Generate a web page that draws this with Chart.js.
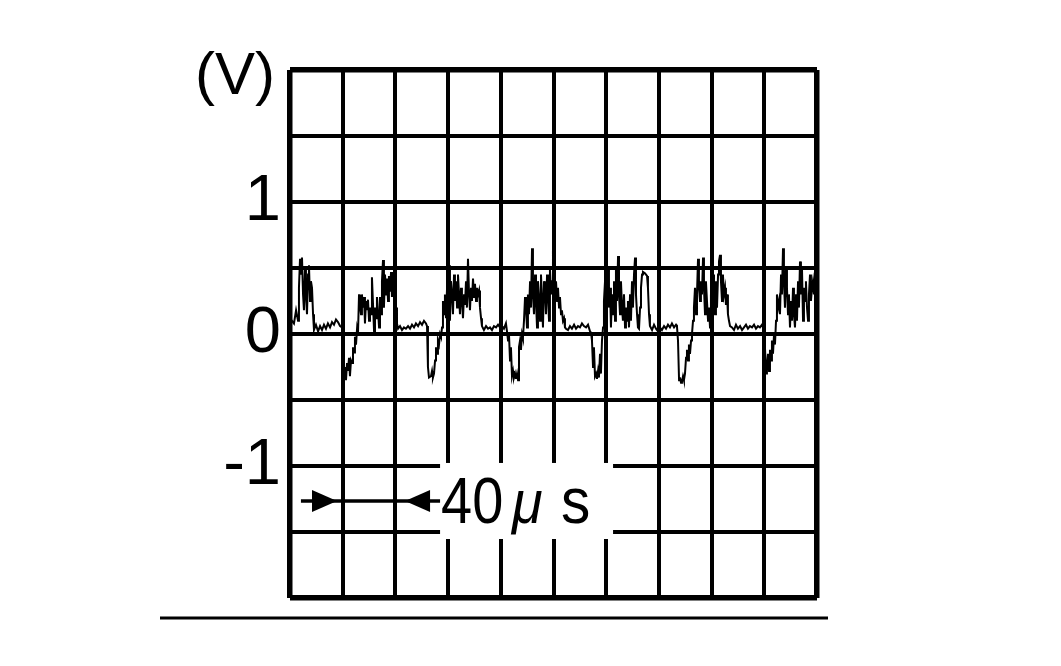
<!DOCTYPE html>
<html>
<head>
<meta charset="utf-8">
<script src="https://cdn.jsdelivr.net/npm/chart.js@4.4.1/dist/chart.umd.min.js"></script>
<style>
  html, body { margin: 0; padding: 0; background: #fff; }
  #scope { display: block; }
</style>
</head>
<body>
<canvas id="scope" width="1061" height="666"></canvas>
<script>
// trace: time in microseconds (40 us / div), voltage in volts
var timeUs = [
  0, 1.5, 3.0, 4.6, 6.1, 6.8, 7.6, 8.3, 9.1, 9.9, 10.6, 11.4, 12.1, 12.9, 13.7, 14.4, 15.2, 15.9, 16.7, 17.5,
  18.2, 19.7, 21.3, 22.8, 24.3, 25.8, 27.3, 28.8, 30.4, 31.9, 33.4, 34.9, 36.4, 38.0, 39.5,
  40.2, 41.0, 41.7, 42.5, 43.3, 44.0, 44.8, 45.5, 46.3, 47.1, 47.8, 48.6, 49.3, 50.1, 50.9,
  51.6, 52.4, 53.1, 53.9, 54.6, 55.4, 56.2, 56.9, 57.7, 58.4, 59.2, 60.0, 60.7, 61.5, 62.2, 63.8, 64.5, 65.3, 66.0, 66.8,
  67.6, 68.3, 69.1, 69.8, 70.6, 71.3, 72.1, 72.9, 73.6, 74.4, 75.1, 75.9, 76.7, 77.4, 78.2, 78.9, 79.7, 80.5, 81.2,
  82.0, 83.5, 85.0, 86.5, 88.0, 89.6, 91.1, 92.6, 94.1, 95.6, 97.2, 98.7, 100.2, 101.7, 103.2, 104.0,
  104.7, 105.5, 107.0, 107.8, 108.5, 109.3, 110.1, 110.8, 111.6, 112.3, 113.1, 113.9, 114.6, 115.4,
  116.1, 116.9, 117.6, 118.4, 119.2, 119.9, 120.7, 121.4, 122.2, 123.0, 123.7, 124.5, 125.2, 126.0, 126.8, 127.5,
  128.3, 129.0, 129.8, 130.5, 131.3, 132.1, 132.8, 133.6, 134.3, 135.1, 135.9, 136.6, 137.4, 138.1, 138.9, 139.7,
  140.4, 141.2, 141.9, 142.7, 143.5, 144.2, 145.0, 145.7,
  147.2, 148.8, 150.3, 151.8, 153.3, 154.8, 156.4, 157.9, 159.4, 160.9, 162.4, 163.9,
  164.7, 165.5, 166.2, 167.0, 167.7, 168.5, 169.3, 170.0, 170.8, 171.5, 172.3, 173.1, 173.8, 174.6, 175.3, 176.1, 176.8,
  177.6, 178.4, 179.1, 179.9, 180.6, 181.4, 182.2, 182.9, 183.7, 184.4, 185.2, 186.0, 186.7, 187.5, 188.2, 189.0,
  189.8, 190.5, 191.3, 192.0, 192.8, 193.5, 194.3, 195.1, 195.8, 196.6, 197.3, 198.1, 198.9, 199.6, 200.4, 201.1,
  201.9, 202.7, 203.4, 204.2, 204.9, 205.7, 206.4, 207.2, 208.0, 208.7, 209.5,
  211.0, 212.5, 214.0, 215.6, 217.1, 218.6, 220.1, 221.6, 223.1, 224.7, 226.2, 227.7, 228.5,
  229.2, 230.0, 230.7, 231.5, 232.3, 233.0, 233.8, 234.5, 235.3, 236.0, 236.8,
  237.6, 238.3, 239.1, 239.8, 240.6, 241.4, 242.1, 242.9, 243.6, 244.4, 245.2, 245.9, 246.7, 247.4, 248.2, 249.0,
  249.7, 250.5, 251.2, 252.0, 252.7, 253.5, 254.3, 255.0, 255.8, 256.5, 257.3, 258.1, 258.8, 259.6, 260.3, 261.1,
  261.9, 262.6, 263.4, 264.1, 264.9, 265.7, 266.4, 267.2, 267.9, 269.4, 271.0, 271.7, 272.5, 273.2,
  274.8, 276.3, 277.8, 279.3, 280.8, 282.3, 283.9, 285.4, 286.9, 288.4, 289.9, 291.5, 293.0, 293.7,
  294.5, 295.3, 296.0, 296.8, 297.5, 298.3, 299.0, 299.8, 300.6, 301.3, 302.1, 302.8, 303.6, 304.4, 305.1,
  305.9, 306.6, 307.4, 308.2, 308.9, 309.7, 310.4, 311.2, 311.9, 312.7, 313.5, 314.2, 315.0, 315.7, 316.5, 317.3,
  318.0, 318.8, 319.5, 320.3, 321.1, 321.8, 322.6, 323.3, 324.1, 324.9, 325.6, 326.4, 327.1, 327.9, 328.6, 329.4,
  330.2, 330.9, 331.7, 332.4, 333.2, 334.0, 335.5,
  337.0, 338.5, 340.0, 341.6, 343.1, 344.6, 346.1, 347.6, 349.1, 350.7, 352.2, 353.7, 355.2, 356.7, 358.2, 359.8,
  360.5, 361.3, 362.0, 362.8, 363.6, 364.3, 365.1, 365.8, 366.6, 367.4, 368.1,
  368.9, 369.6, 370.4, 371.2, 371.9, 372.7, 373.4, 374.2, 374.9, 375.7, 376.5, 377.2, 378.0, 378.7, 379.5, 380.3,
  381.0, 381.8, 382.5, 383.3, 384.1, 384.8, 385.6, 386.3, 387.1, 387.8, 388.6, 389.4, 390.1, 390.9, 391.6, 392.4,
  393.2, 393.9, 394.7, 395.4, 396.2, 396.9, 397.7, 398.5, 399.2, 400.0
];
var volts = [
  0.08, 0.10, 0.08, 0.18, 0.10, 0.35, 0.57, 0.45, 0.58, 0.30, 0.18, 0.50, 0.30, 0.15, 0.45, 0.52, 0.25, 0.40, 0.35, 0.15,
  0.03, 0.07, 0.02, 0.06, 0.03, 0.07, 0.04, 0.08, 0.05, 0.09, 0.07, 0.11, 0.09, 0.06, 0.05,
  -0.22, -0.30, -0.25, -0.35, -0.22, -0.28, -0.18, -0.32, -0.20, -0.22, -0.10, -0.14, -0.02, -0.08, 0.04,
  0.00, 0.30, 0.22, 0.15, 0.30, 0.20, 0.28, 0.08, 0.25, 0.18, 0.26, 0.10, 0.20, 0.15, 0.43, 0.02, 0.20, 0.12, 0.28, 0.18,
  0.05, 0.28, 0.15, 0.40, 0.56, 0.20, 0.45, 0.30, 0.42, 0.25, 0.44, 0.32, 0.47, 0.28, 0.40, 0.36, 0.55, 0.20, 0.08,
  0.04, 0.06, 0.03, 0.05, 0.04, 0.06, 0.04, 0.07, 0.05, 0.08, 0.06, 0.09, 0.07, 0.10, 0.08, 0.06,
  -0.25, -0.33, -0.32, -0.28, -0.33, -0.30, -0.20, -0.10, -0.15, -0.05, -0.08, 0.00, -0.02, 0.05,
  0.25, 0.15, 0.30, 0.12, 0.35, 0.20, 0.52, 0.10, 0.40, 0.30, 0.15, 0.45, 0.25, 0.40, 0.20, 0.45,
  0.30, 0.15, 0.35, 0.25, 0.12, 0.30, 0.22, 0.40, 0.20, 0.57, 0.30, 0.18, 0.35, 0.25, 0.42, 0.28,
  0.38, 0.25, 0.35, 0.30, 0.33, 0.20, 0.12, 0.06,
  0.03, 0.06, 0.04, 0.05, 0.03, 0.06, 0.05, 0.07, 0.05, 0.06, 0.04, 0.08,
  0.02, -0.05, 0.00, -0.20, -0.10, -0.32, -0.28, -0.33, -0.30, -0.34, -0.30, -0.35, -0.10, -0.05, -0.12, 0.00, -0.03,
  0.10, 0.28, 0.20, 0.05, 0.30, 0.15, 0.40, 0.20, 0.65, 0.30, 0.15, 0.45, 0.25, 0.05, 0.40, 0.30,
  0.10, 0.45, 0.25, 0.05, 0.40, 0.35, 0.15, 0.45, 0.30, 0.10, 0.50, 0.30, 0.40, 0.63, 0.45, 0.30,
  0.40, 0.25, 0.35, 0.20, 0.28, 0.15, 0.18, 0.10, 0.12, 0.05, 0.04,
  0.03, 0.06, 0.04, 0.07, 0.04, 0.06, 0.05, 0.08, 0.06, 0.05, 0.07, 0.02, 0.01,
  -0.05, -0.25, -0.10, -0.32, -0.30, -0.34, -0.28, -0.33, -0.15, -0.30, -0.05,
  0.05, 0.25, 0.40, 0.10, 0.30, 0.50, 0.20, 0.35, 0.05, 0.30, 0.15, 0.40, 0.10, 0.50, 0.25, 0.59,
  0.30, 0.15, 0.40, 0.20, 0.10, 0.30, 0.05, 0.20, 0.10, 0.25, 0.05, 0.30, 0.10, 0.40, 0.20, 0.45,
  0.58, 0.30, 0.15, 0.05, 0.04, 0.20, 0.35, 0.45, 0.47, 0.46, 0.44, 0.35, 0.15, 0.06,
  0.03, 0.07, 0.04, 0.02, 0.05, 0.03, 0.06, 0.04, 0.07, 0.05, 0.08, 0.05, 0.07, 0.06,
  -0.05, -0.35, -0.33, -0.37, -0.36, -0.32, -0.35, -0.30, -0.18, -0.12, -0.20, -0.08, -0.15, -0.05, 0.00,
  0.10, 0.20, 0.35, 0.15, 0.30, 0.57, 0.35, 0.25, 0.40, 0.30, 0.58, 0.35, 0.15, 0.40, 0.25, 0.10,
  0.20, 0.05, 0.30, 0.10, 0.45, 0.25, 0.15, 0.40, 0.20, 0.45, 0.55, 0.60, 0.40, 0.25, 0.45, 0.30,
  0.35, 0.22, 0.30, 0.15, 0.10, 0.06, 0.05,
  0.03, 0.07, 0.04, 0.06, 0.03, 0.05, 0.07, 0.04, 0.06, 0.05, 0.07, 0.04, 0.06, 0.05, 0.07, 0.03,
  -0.10, -0.30, -0.25, -0.15, -0.28, -0.12, -0.20, -0.05, -0.15, 0.00, -0.08,
  0.10, 0.30, 0.20, 0.25, 0.15, 0.45, 0.30, 0.65, 0.40, 0.20, 0.50, 0.35, 0.15, 0.30, 0.05, 0.25,
  0.10, 0.35, 0.15, 0.05, 0.30, 0.10, 0.40, 0.20, 0.55, 0.30, 0.50, 0.10, 0.35, 0.25, 0.40, 0.20,
  0.10, 0.30, 0.45, 0.25, 0.35, 0.40, 0.30, 0.45, 0.35, 0.38
];
var yLabels = { '1': '1', '0': '0', '-1': '-1' };
var unitLabel = '(V)';
var timeNote = ['40', 'μ', 's'];

var FONT = "'Liberation Sans', Arial, sans-serif";

// draws narrow-ish text like the scope photo
function squeezed(c, txt, x, y, sx) {
  c.save();
  c.translate(x, y);
  c.scale(sx, 1);
  c.fillText(txt, 0, 0);
  c.restore();
}

// (V) at the top, 40 us note with its arrows, rule under the screen
var extras = {
  id: 'extras',
  afterDraw: function (chart) {
    var c = chart.ctx, a = chart.chartArea;
    var xs = chart.scales.x, ys = chart.scales.y;
    c.save();
    c.fillStyle = '#000';
    c.font = '60px ' + FONT;
    c.textAlign = 'right';
    c.textBaseline = 'alphabetic';
    c.fillText(unitLabel, a.left - 15, a.top + 24);

    // white patch behind the note
    var bx0 = xs.getPixelForValue(113.9), bx1 = xs.getPixelForValue(245.2);
    var by0 = ys.getPixelForValue(-0.977), by1 = ys.getPixelForValue(-1.553);
    c.fillStyle = '#fff';
    c.fillRect(bx0, by0, bx1 - bx0, by1 - by0);

    // arrows
    var ay = ys.getPixelForValue(-1.265);
    c.strokeStyle = '#000';
    c.fillStyle = '#000';
    c.lineWidth = 3.5;
    c.beginPath();
    c.moveTo(xs.getPixelForValue(8.3), ay);
    c.lineTo(bx0, ay);
    c.stroke();
    var t1 = xs.getPixelForValue(35.7), b1 = xs.getPixelForValue(16.7);
    var t2 = xs.getPixelForValue(87.3), b2 = xs.getPixelForValue(106.3);
    c.beginPath();
    c.moveTo(t1, ay); c.lineTo(b1, ay - 11); c.lineTo(b1, ay + 11); c.closePath();
    c.fill();
    c.beginPath();
    c.moveTo(t2, ay); c.lineTo(b2, ay - 11); c.lineTo(b2, ay + 11); c.closePath();
    c.fill();

    // 40 μs
    var base = ys.getPixelForValue(-1.43);
    c.textAlign = 'left';
    c.font = '65px ' + FONT;
    squeezed(c, timeNote[0], bx0 + 1, base, 0.86);
    c.font = 'italic 62px ' + FONT;
    squeezed(c, timeNote[1], bx0 + 72, base, 0.9);
    c.font = '65px ' + FONT;
    squeezed(c, timeNote[2], bx0 + 121, base, 0.9);

    // rule under the screen
    c.lineWidth = 3;
    c.beginPath();
    c.moveTo(a.left - 130, a.bottom + 20);
    c.lineTo(a.right + 11, a.bottom + 20);
    c.stroke();
    c.restore();
  }
};

document.addEventListener('DOMContentLoaded', function () {
  var ctx = document.getElementById('scope').getContext('2d');
  var points = timeUs.map(function (t, i) { return { x: t, y: volts[i] }; });

  new Chart(ctx, {
    type: 'line',
    data: {
      datasets: [{
        data: points,
        borderColor: '#000',
        borderWidth: 2,
        pointRadius: 0,
        tension: 0,
        fill: false
      }]
    },
    options: {
      responsive: false,
      animation: false,
      events: [],
      layout: { padding: { left: 0, top: 70, right: 244, bottom: 68 } },
      plugins: { legend: { display: false }, tooltip: { enabled: false } },
      scales: {
        x: {
          type: 'linear',
          min: 0,
          max: 400,
          afterFit: function (s) { s.height = 0; },
          ticks: { stepSize: 40, display: false },
          border: { display: false },
          grid: {
            color: '#000',
            drawTicks: false,
            lineWidth: function (c) { return (c.index === 0 || c.index === 10) ? 5.5 : 4; }
          }
        },
        y: {
          min: -2,
          max: 2,
          afterFit: function (s) { s.width = 290; },
          border: { display: false },
          grid: {
            color: '#000',
            drawTicks: false,
            lineWidth: function (c) { return (c.index === 0 || c.index === 8) ? 5.5 : 4; }
          },
          ticks: {
            stepSize: 0.5,
            autoSkip: false,
            padding: 9,
            color: '#000',
            font: { family: FONT, size: 65 },
            callback: function (v) { return yLabels[String(v)] || ''; }
          }
        }
      }
    },
    plugins: [extras]
  });
});
</script>
</body>
</html>
